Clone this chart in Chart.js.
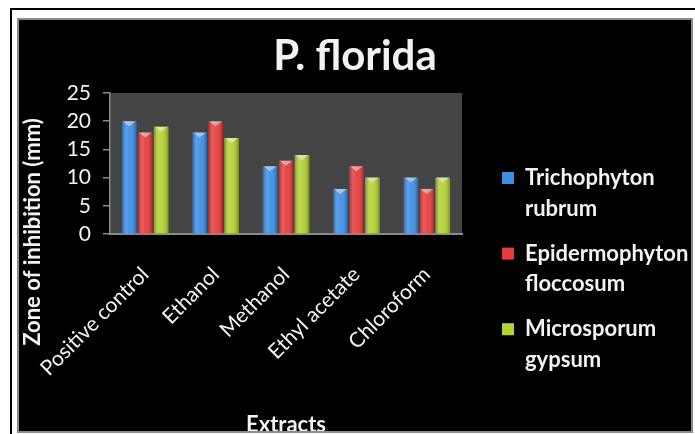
<!DOCTYPE html>
<html>
<head>
<meta charset="utf-8">
<script src="https://cdn.jsdelivr.net/npm/chart.js@4.4.1/dist/chart.umd.min.js"></script>
<style>
  html, body { margin: 0; padding: 0; background: #fff; width: 695px; height: 434px; overflow: hidden; }
  #frame { position: absolute; left: 10px; top: 8px; width: 720px; height: 460px;
           border-left: 2px solid #000; border-top: 2px solid #000; }
  #panel { position: absolute; left: 18px; top: 19px; width: 674px; height: 413px;
           background: #000; overflow: hidden; }
  #edge  { position: absolute; left: 17px; top: 18px; width: 676px; height: 415px;
           box-sizing: border-box; border: 2px solid #8d8d8d; pointer-events: none; }
  canvas { display: block; }
</style>
</head>
<body>
<div id="frame"></div>
<div id="panel"><canvas id="chart" width="674" height="419"></canvas></div>
<div id="edge"></div>
<script>
// Zone of inhibition (mm) per extract and fungus
const chartTitle = 'P. florida';
const categories = ['Positive control', 'Ethanol', 'Methanol', 'Ethyl acetate', 'Chloroform'];
const seriesNames = ['Trichophyton rubrum', 'Epidermophyton floccosum', 'Microsporum gypsum'];
const trichophytonRubrum      = [20, 18, 12, 8, 10];
const epidermophytonFloccosum = [18, 20, 13, 12, 8];
const microsporumGypsum       = [19, 17, 14, 10, 10];
const yTicks = [0, 5, 10, 15, 20, 25];
const xTitle = 'Extracts';
const yTitle = 'Zone of inhibition (mm)';

const TEXT = '#f2f2f2';
const AXIS = '#8a8a8a';
const FONT = 'Lato, "Open Sans", sans-serif';

// grey plot area
const plotBackground = {
  id: 'plotBackground',
  beforeDraw(chart) {
    const { ctx, chartArea: a } = chart;
    ctx.save();
    ctx.fillStyle = '#444444';
    ctx.fillRect(a.left, a.top, a.right - a.left, a.bottom - a.top);
    ctx.restore();
  }
};

// cylinder-like shading and a light cap on each bar
const barShading = {
  id: 'barShading',
  afterDatasetsDraw(chart) {
    const ctx = chart.ctx;
    chart.data.datasets.forEach((ds, i) => {
      const meta = chart.getDatasetMeta(i);
      if (meta.hidden) return;
      meta.data.forEach(bar => {
        const { x, y, base, width } = bar.getProps(['x', 'y', 'base', 'width'], true);
        const left = x - width / 2, right = x + width / 2;
        const g = ctx.createLinearGradient(left, 0, right, 0);
        g.addColorStop(0, 'rgba(0,0,0,0.30)');
        g.addColorStop(0.3, 'rgba(255,255,255,0.16)');
        g.addColorStop(0.55, 'rgba(255,255,255,0.05)');
        g.addColorStop(1, 'rgba(0,0,0,0.32)');
        ctx.save();
        ctx.fillStyle = g;
        ctx.fillRect(left, y, width, base - y);
        ctx.beginPath();
        ctx.moveTo(left + 1, y);
        ctx.lineTo(right - 1, y);
        ctx.lineTo(x, y + 5);
        ctx.closePath();
        ctx.fillStyle = 'rgba(255,255,255,0.45)';
        ctx.fill();
        ctx.restore();
      });
    });
  }
};

// rotated value-axis title
const yAxisTitle = {
  id: 'yAxisTitle',
  afterDraw(chart) {
    const { ctx, chartArea: a } = chart;
    ctx.save();
    ctx.translate(15, a.bottom - 2);
    ctx.rotate(-Math.PI / 2);
    ctx.fillStyle = TEXT;
    ctx.font = 'bold 22px ' + FONT;
    ctx.textAlign = 'center';
    ctx.textBaseline = 'middle';
    ctx.fillText(yTitle, 0, 0);
    ctx.restore();
  }
};

const colors = ['#3d8fe6', '#e63c3c', '#b3d334'];
const values = [trichophytonRubrum, epidermophytonFloccosum, microsporumGypsum];

new Chart(document.getElementById('chart'), {
  type: 'bar',
  data: {
    labels: categories,
    datasets: seriesNames.map((name, i) => ({
      label: name,
      data: values[i],
      backgroundColor: colors[i],
      borderWidth: 0
    }))
  },
  options: {
    responsive: false,
    animation: false,
    devicePixelRatio: 1,
    layout: { padding: 0 },
    datasets: { bar: { categoryPercentage: 0.68, barPercentage: 0.92 } },
    plugins: {
      tooltip: { enabled: false },
      title: {
        display: true,
        text: chartTitle,
        color: TEXT,
        font: { family: FONT, weight: 'bold', size: 42, lineHeight: 1.2 },
        padding: { top: 12, bottom: 11.6 }
      },
      legend: {
        position: 'right',
        align: 'start',
        maxWidth: 204,
        title: { display: true, text: ' ', font: { size: 10, lineHeight: 1 }, padding: { top: 124, bottom: 0 } },
        labels: {
          color: TEXT,
          font: { family: FONT, weight: 'bold', size: 22, lineHeight: 1.4 },
          boxWidth: 12,
          boxHeight: 12,
          padding: 14,
          generateLabels(chart) {
            return Chart.defaults.plugins.legend.labels.generateLabels(chart).map(item => {
              item.text = item.text.split(' ');
              item.lineWidth = 0;
              return item;
            });
          }
        }
      }
    },
    scales: {
      x: {
        grid: { display: false, drawTicks: false },
        border: { display: true, color: AXIS, width: 2 },
        ticks: {
          color: TEXT,
          font: { family: FONT, size: 21 },
          minRotation: 45, maxRotation: 45, autoSkip: false, padding: 28
        },
        title: {
          display: true, text: xTitle, color: TEXT,
          font: { family: FONT, weight: 'bold', size: 22 },
          padding: { top: 0, bottom: 0 }
        },
        afterFit(scale) {
          scale.height = 204;
          scale.paddingLeft = 0;
          scale.paddingRight = 0;
        }
      },
      y: {
        min: 0, max: 25,
        afterBuildTicks(scale) { scale.ticks = yTicks.map(v => ({ value: v })); },
        ticks: { color: TEXT, font: { family: FONT, size: 21 }, padding: 12 },
        grid: { display: true, drawOnChartArea: false, drawTicks: true, tickLength: 7, color: AXIS, lineWidth: 1.5 },
        border: { display: true, color: AXIS, width: 1.5 },
        afterFit(scale) { scale.width = 92; }
      },
      gap: {
        type: 'linear',
        position: 'right',
        grid: { display: false },
        border: { display: false },
        ticks: { display: false },
        afterFit(scale) { scale.width = 26; }
      }
    }
  },
  plugins: [plotBackground, barShading, yAxisTitle]
});
</script>
</body>
</html>
